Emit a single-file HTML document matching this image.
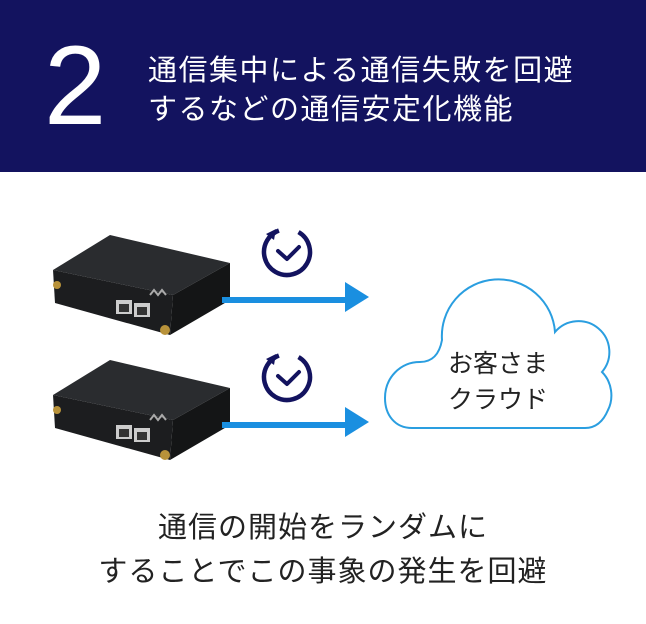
<!DOCTYPE html>
<html><head><meta charset="utf-8"><style>
body{margin:0;width:646px;height:624px;background:#fff;position:relative;overflow:hidden;font-family:"Liberation Sans","Noto Sans CJK JP",sans-serif}
.hd{position:absolute;left:0;top:0;width:646px;height:172px;background:#13135f}
.num{position:absolute;left:44px;top:30px;font-size:112px;color:#fff;font-weight:300;line-height:1}
.ht{position:absolute;left:148px;top:52px;color:#fff;font-size:29px;line-height:39px;letter-spacing:1.5px;white-space:nowrap}
.bt{position:absolute;left:0;width:646px;top:506px;text-align:center;color:#222;font-size:29px;line-height:44px;letter-spacing:1px}
.ct{position:absolute;left:415px;width:166px;top:346px;text-align:center;color:#222;font-size:25px;line-height:36px}
</style></head><body>
<div class="hd"></div>
<div class="num">2</div>
<div class="ht">通信集中による通信失敗を回避<br>するなどの通信安定化機能</div>
<svg width="646" height="624" style="position:absolute;left:0;top:0">
<defs>
<g id="r">
<polygon points="53,270 110,235 230,263 173,295" fill="#2a2c2f"/>
<polygon points="53,270 173,295 170,335 55,303" fill="#1c1d1f"/>
<polygon points="173,295 230,263 230,300 170,335" fill="#141516"/>
<rect x="116" y="300" width="16" height="14" fill="#ccc"/><rect x="134" y="303" width="16" height="14" fill="#ccc"/>
<rect x="119" y="304" width="10" height="8" fill="#333"/><rect x="137" y="307" width="10" height="8" fill="#333"/>
<circle cx="57" cy="285" r="4" fill="#b8923a"/><circle cx="165" cy="330" r="5" fill="#b8923a"/>
<path d="M150 295 l4 -5 l4 5 l4 -5 l4 5" stroke="#aaa" stroke-width="2" fill="none"/>
<line x1="222" y1="300" x2="346" y2="300" stroke="#1a8fe0" stroke-width="6"/>
<polygon points="345,282 369,297 345,312" fill="#1a8fe0"/>
<circle cx="287" cy="252" r="23" fill="none" stroke="#13135f" stroke-width="4.5" stroke-dasharray="124 30" transform="rotate(-60 287 252)"/>
<polygon points="266,234 276,229 274,240" fill="#13135f"/>
<path d="M278 251 L287 259 L299 247" stroke="#13135f" stroke-width="4" fill="none" stroke-linecap="round" stroke-linejoin="round"/>
</g>
</defs>
<use href="#r"/>
<use href="#r" y="125"/>
<path d="M412,428 C395,428 385,415 385,398 C385,378 400,362 420,362 Q438,362 442,340 A56 56 0 0 1 555,332 A30 30 0 0 1 602,372 C612,382 614,398 608,410 C603,422 595,428 585,428 Z" fill="#fff" stroke="#2a9ee0" stroke-width="2"/>
</svg>
<div class="ct">お客さま<br>クラウド</div>
<div class="bt">通信の開始をランダムに<br>することでこの事象の発生を回避</div>
</body></html>
